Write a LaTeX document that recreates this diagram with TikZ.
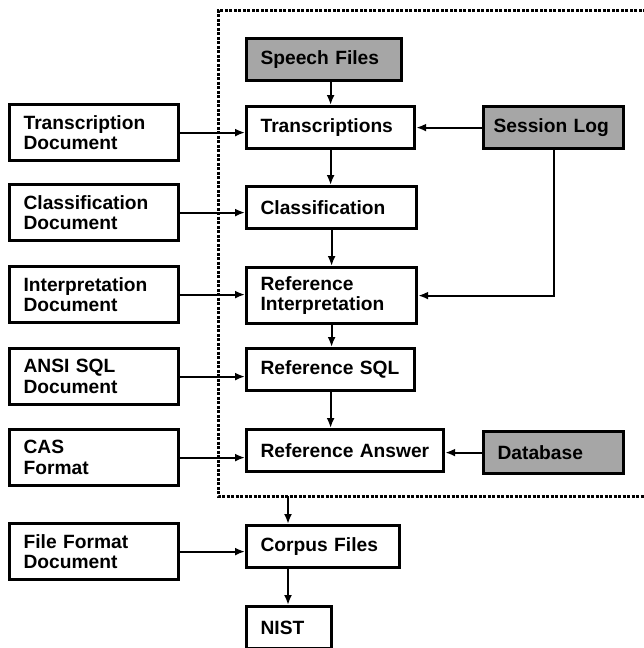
\documentclass[tikz,border=0pt]{standalone}
\usepackage{fontspec}
\setmainfont{Liberation Sans}
\usetikzlibrary{arrows.meta}
\tikzset{
  plainBox/.style={
    draw,
    rectangle,
    line width=3.2pt,
    anchor=north west,
    inner xsep=14pt,
    inner ysep=0pt,
    align=left,
    font=\fontsize{19.2}{20.5}\selectfont\bfseries
  },
  docBox/.style={
    plainBox,
    text width=141pt,
    minimum height=56pt
  },
  stepBox/.style={
    plainBox,
    minimum height=42pt
  },
  sourceBox/.style={
    stepBox,
    fill=black!35
  },
  flowArrow/.style={
    -{Latex[length=10pt,width=8pt]},
    line width=2pt
  }
}

\begin{document}
\begin{tikzpicture}[x=1pt,y=-1pt]
    \useasboundingbox (0,0) rectangle (644,648);

    % dotted frame
    \draw[line width=3pt, dash pattern=on 3pt off 1.5pt]
      (646,10) -- (218,10) -- (218,496) -- (646,496);

    % documents
    \node[docBox] (docTrans)  at (8,103) {Transcription\\Document};
    \node[docBox] (docClass)  at (8,183) {Classification\\Document};
    \node[docBox] (docInterp) at (8,265) {Interpretation\\Document};
    \node[docBox] (docSql)    at (8,347) {ANSI SQL\\Document};
    \node[docBox] (docCas)    at (8,428) {CAS\\Format};
    \node[docBox] (docFile)   at (8,522) {File Format\\Document};

    % steps
    \node[sourceBox, text width=127pt] (speech) at (245,37) {Speech Files};
    \node[stepBox, text width=140pt] (trans) at (245,105) {Transcriptions};
    \node[stepBox, text width=142pt] (classif) at (245,185) {Classification};
    \node[stepBox, text width=142pt, minimum height=56pt]
      (refInterp) at (245,266) {Reference\\Interpretation};
    \node[stepBox, text width=140pt] (refSql) at (245,347) {Reference SQL};
    \node[stepBox, text width=169pt] (refAns) at (245,428) {Reference Answer};
    \node[stepBox, text width=125pt] (corpus) at (245,524) {Corpus Files};
    \node[stepBox, text width=57pt] (nist) at (245,605) {NIST};

    % sources on the right
    \node[sourceBox, inner xsep=10pt, text width=120pt]
      (session) at (482,105) {Session Log};
    \node[sourceBox, text width=112pt] (database) at (482,430) {Database};

    % document arrows
    \foreach \doc/\step in {docTrans/trans, docClass/classif, docInterp/refInterp,
                            docSql/refSql, docCas/refAns, docFile/corpus} {
      \draw[flowArrow] (\doc.east) -- (\doc.east -| \step.west);
    }

    % step arrows
    \draw[flowArrow] (speech.south -| trans.north) -- (trans.north);
    \foreach \a/\b in {trans/classif, classif/refInterp, refInterp/refSql, refSql/refAns} {
      \draw[flowArrow] (\a.south) -- (\a.south |- \b.north);
    }

    \draw[flowArrow] (session.west) -- (session.west -| trans.east);
    \draw[flowArrow] (session.south) |- (refInterp.east);
    \draw[flowArrow] (database.west) -- (database.west -| refAns.east);

    % out of the frame
    \coordinate (frameExit) at (288,496);
    \draw[flowArrow] (frameExit) -- (frameExit |- corpus.north);
    \draw[flowArrow] (frameExit |- corpus.south) -- (frameExit |- nist.north);
  \end{tikzpicture}
\end{document}
